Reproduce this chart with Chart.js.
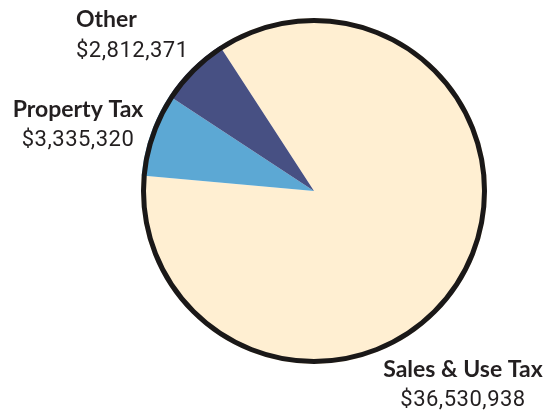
<!DOCTYPE html>
<html>
<head>
<meta charset="utf-8">
<script src="https://cdn.jsdelivr.net/npm/chart.js@4/dist/chart.umd.min.js"></script>
<style>
  html, body { margin: 0; padding: 0; background: #ffffff; }
  #wrap { width: 548px; height: 411px; }
</style>
</head>
<body>
<div id="wrap"><canvas id="revenue" width="548" height="411"></canvas></div>
<script>
// Revenue sources
const categories = ['Sales & Use Tax', 'Property Tax', 'Other'];
const amounts = [36530938, 3335320, 2812371];
const sliceColors = ['#FFEFD2', '#5CA8D4', '#475083'];

// Label placement (anchor x, alignment, title baseline, value baseline) for each source
const labelSpots = [
  { x: 463, align: 'center', y1: 377, y2: 406 },
  { x: 78, align: 'center', y1: 117, y2: 146 },
  { x: 76, align: 'left', y1: 27, y2: 57 }
];

const TITLE_FONT = 'bold 23px "Lato", sans-serif';
const VALUE_FONT = '400 22px "Roboto", "Liberation Sans", sans-serif';

function money(v) {
  return '$' + v.toLocaleString('en-US');
}

// Black rim around the whole pie
const rimPlugin = {
  id: 'rim',
  afterDatasetsDraw(chart) {
    const arc = chart.getDatasetMeta(0).data[0];
    if (!arc) return;
    const ctx = chart.ctx;
    ctx.save();
    ctx.beginPath();
    ctx.arc(arc.x, arc.y, arc.outerRadius - 2.5, 0, Math.PI * 2);
    ctx.lineWidth = 5;
    ctx.strokeStyle = '#1a1818';
    ctx.stroke();
    ctx.restore();
  }
};

// Category names and amounts beside the pie
const labelPlugin = {
  id: 'sliceLabels',
  afterDraw(chart) {
    const ctx = chart.ctx;
    ctx.save();
    ctx.textBaseline = 'alphabetic';
    ctx.fillStyle = '#231f20';
    categories.forEach((name, i) => {
      const s = labelSpots[i];
      ctx.textAlign = s.align;
      ctx.font = TITLE_FONT;
      ctx.letterSpacing = '0px';
      ctx.fillText(name, s.x, s.y1);
      ctx.font = VALUE_FONT;
      ctx.letterSpacing = '0.5px';
      ctx.fillText(money(amounts[i]), s.x, s.y2);
    });
    ctx.restore();
  }
};

function draw() {
  new Chart(document.getElementById('revenue'), {
    type: 'pie',
    data: {
      labels: categories,
      datasets: [{
        data: amounts,
        backgroundColor: sliceColors,
        borderWidth: 0
      }]
    },
    options: {
      responsive: false,
      animation: false,
      rotation: -33,
      layout: { padding: { top: 18, bottom: 47, left: 141, right: 61 } },
      plugins: {
        legend: { display: false },
        tooltip: { enabled: false }
      }
    },
    plugins: [rimPlugin, labelPlugin]
  });
}

Promise.all([
  document.fonts.load(TITLE_FONT),
  document.fonts.load(VALUE_FONT)
]).then(draw, draw);
</script>
</body>
</html>
